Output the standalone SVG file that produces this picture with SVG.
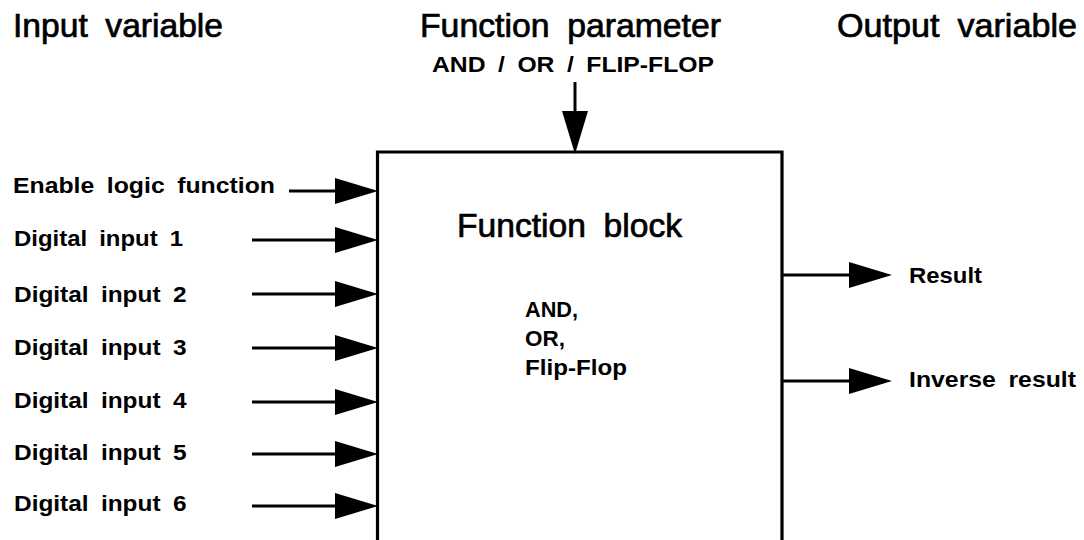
<svg xmlns="http://www.w3.org/2000/svg" width="1084" height="540" viewBox="0 0 1084 540">
<style>
text{font-family:"Liberation Sans",Arial,sans-serif;fill:#000}
.title{font-size:32.5px;stroke:#000;stroke-width:0.7px;word-spacing:8px}
.lbl{font-size:22px;font-weight:bold;word-spacing:5px}
.con{stroke:#000;stroke-width:3;fill:none}
</style>
<defs>
<marker id="ah" markerUnits="userSpaceOnUse" viewBox="0 0 43 26" markerWidth="43" markerHeight="26" refX="0" refY="13" orient="auto">
<path d="M0,0 L43,13 L0,26 Z" fill="#000"/>
</marker>
</defs>
<rect width="1084" height="540" fill="#fff"/>
<g id="titles">
<text class="title" x="13" y="37.3" textLength="210" lengthAdjust="spacingAndGlyphs">Input variable</text>
<text class="title" x="420" y="37.3" textLength="301" lengthAdjust="spacingAndGlyphs">Function parameter</text>
<text class="title" x="837" y="37.3" textLength="240" lengthAdjust="spacingAndGlyphs">Output variable</text>
<text class="lbl" x="432" y="71.7" textLength="282" lengthAdjust="spacingAndGlyphs">AND / OR / FLIP-FLOP</text>
</g>
<g id="function-block">
<path d="M377.5,545 V152 H782 V545" fill="none" stroke="#000" stroke-width="3.2"/>
<text class="title" x="457" y="237.3" textLength="225" lengthAdjust="spacingAndGlyphs">Function block</text>
<text class="lbl" x="525" y="317.3" textLength="53" lengthAdjust="spacingAndGlyphs">AND,</text>
<text class="lbl" x="525" y="346.3" textLength="40" lengthAdjust="spacingAndGlyphs">OR,</text>
<text class="lbl" x="525" y="375.3" textLength="102" lengthAdjust="spacingAndGlyphs">Flip-Flop</text>
</g>
<g id="inputs">
<text class="lbl" x="13" y="193" textLength="262" lengthAdjust="spacingAndGlyphs">Enable logic function</text>
<text class="lbl" x="14" y="245.7" textLength="169" lengthAdjust="spacingAndGlyphs">Digital input 1</text>
<text class="lbl" x="14" y="301.7" textLength="172.5" lengthAdjust="spacingAndGlyphs">Digital input 2</text>
<text class="lbl" x="14" y="355" textLength="172.5" lengthAdjust="spacingAndGlyphs">Digital input 3</text>
<text class="lbl" x="14" y="408.3" textLength="172.5" lengthAdjust="spacingAndGlyphs">Digital input 4</text>
<text class="lbl" x="14" y="459.5" textLength="172.5" lengthAdjust="spacingAndGlyphs">Digital input 5</text>
<text class="lbl" x="14" y="511.3" textLength="172.5" lengthAdjust="spacingAndGlyphs">Digital input 6</text>
</g>
<g id="outputs">
<text class="lbl" x="909" y="282.5" textLength="73" lengthAdjust="spacingAndGlyphs">Result</text>
<text class="lbl" x="909" y="387.3" textLength="167" lengthAdjust="spacingAndGlyphs">Inverse result</text>
</g>
<g id="connectors">
<line class="con" x1="575" y1="82" x2="575" y2="111" marker-end="url(#ah)"/>
<line class="con" x1="289" y1="191" x2="335" y2="191" marker-end="url(#ah)"/>
<line class="con" x1="252" y1="240" x2="335" y2="240" marker-end="url(#ah)"/>
<line class="con" x1="252" y1="294" x2="335" y2="294" marker-end="url(#ah)"/>
<line class="con" x1="252" y1="348" x2="335" y2="348" marker-end="url(#ah)"/>
<line class="con" x1="252" y1="402" x2="335" y2="402" marker-end="url(#ah)"/>
<line class="con" x1="252" y1="454" x2="335" y2="454" marker-end="url(#ah)"/>
<line class="con" x1="252" y1="506" x2="335" y2="506" marker-end="url(#ah)"/>
<line class="con" x1="782" y1="275" x2="849" y2="275" marker-end="url(#ah)"/>
<line class="con" x1="782" y1="381" x2="849" y2="381" marker-end="url(#ah)"/>
</g>
</svg>
